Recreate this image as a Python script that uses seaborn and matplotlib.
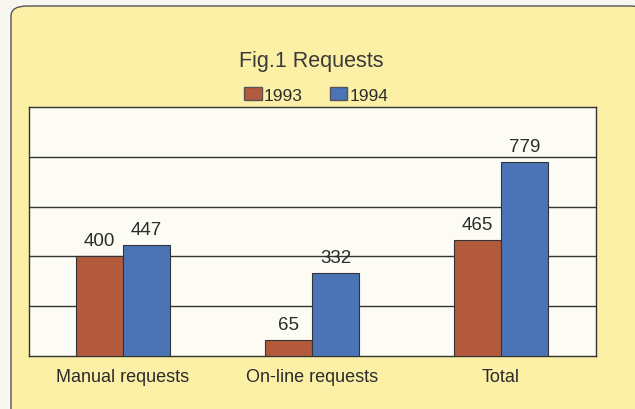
import pandas as pd
import numpy as np
import matplotlib.pyplot as plt
import seaborn as sns
from matplotlib.patches import FancyBboxPatch, Patch

# Datos del gráfico
categorias = ['Manual requests', 'On-line requests', 'Total']
valores_1993 = [400, 65, 465]
valores_1994 = [447, 332, 779]
anios = ['1993', '1994']

df = pd.DataFrame({
    'categoria': categorias * 2,
    'anio': [anios[0]] * 3 + [anios[1]] * 3,
    'valor': valores_1993 + valores_1994,
})

color_1993 = '#B35A3C'
color_1994 = '#4B74B6'
amarillo = '#FBF0A6'
texto = '#2b2b2b'

sns.set_style('white')
plt.rcParams['font.family'] = ['Liberation Sans', 'DejaVu Sans']

fig = plt.figure(figsize=(6.35, 4.1), dpi=100)
fig.patch.set_facecolor('#F7F6F0')

# Marco amarillo con esquinas redondeadas
marco = FancyBboxPatch((11 / 635, -0.05), 1.0, 1 - 7 / 410 + 0.05,
                       boxstyle='round,pad=0,rounding_size=0.025',
                       transform=fig.transFigure, facecolor=amarillo,
                       edgecolor='#555555', linewidth=1.0, zorder=-5)
fig.patches.append(marco)

ax = fig.add_axes([28.5 / 635, 1 - 357 / 410, 567 / 635, 249 / 410])
ax.set_zorder(2)
sns.barplot(data=df, x='categoria', y='valor', hue='anio',
            palette=[color_1993, color_1994], width=0.5,
            edgecolor='#333333', linewidth=0.8, saturation=1,
            ax=ax, legend=False, zorder=3)

ax.set_facecolor('#FDFCF4')
ax.set_ylim(0, 1000)
ax.set_yticks([200, 400, 600, 800])
ax.yaxis.grid(True, color='#333333', linewidth=1.0, zorder=0)
ax.set_axisbelow(True)
ax.tick_params(axis='y', length=0, labelleft=False)
ax.tick_params(axis='x', length=0, labelsize=13, colors=texto, pad=9)
ax.set_xlabel('')
ax.set_ylabel('')
for lado in ax.spines.values():
    lado.set_color('#333333')
    lado.set_linewidth(1.0)

for cont in ax.containers:
    ax.bar_label(cont, fontsize=13.5, color=texto, padding=5)

fig.text(0.49, 1 - 61 / 410, 'Fig.1 Requests', ha='center', va='center',
         fontsize=15.5, color='#3a3a3a', zorder=3)

handles = [Patch(facecolor=color_1993, edgecolor='#555555', label=anios[0]),
           Patch(facecolor=color_1994, edgecolor='#555555', label=anios[1])]
leg = fig.legend(handles=handles, loc='center', bbox_to_anchor=(0.498, 1 - 96 / 410),
                 ncol=2, frameon=False, fontsize=12.5, handlelength=1.0,
                 handleheight=0.8, handletextpad=0.1, columnspacing=1.6,
                 labelcolor=texto)
leg.set_zorder(3)

plt.savefig('out.png', dpi=100, facecolor=fig.get_facecolor())
